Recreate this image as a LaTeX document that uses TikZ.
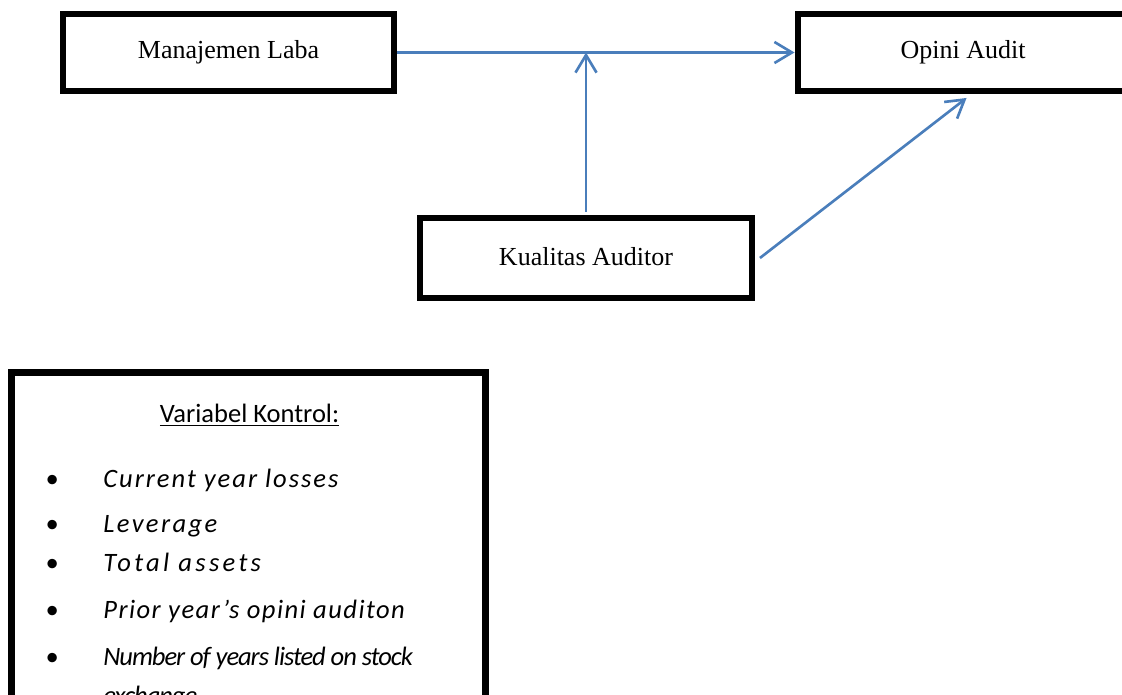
\documentclass[tikz,border=0pt]{standalone}
\usepackage{fontspec}
\setmainfont{Liberation Serif}
\newfontfamily\kontrolfont{Carlito}
\usepackage{tikz}
\usetikzlibrary{arrows.meta,positioning}
\definecolor{panahbiru}{HTML}{4A7EBB}

\begin{document}
\begin{tikzpicture}[x=0.02cm, y=-0.02cm,
  kotak/.style={draw, rectangle, line width=3.4pt, minimum width=6.62cm, minimum height=1.54cm, font=\fontsize{14.8}{17}\selectfont},
  panah/.style={draw=panahbiru, line width=1.5pt, -{Straight Barb[length=10pt,width=12pt]}},
  butir/.style={anchor=base west, inner sep=0pt, font=\kontrolfont\itshape\fontsize{15.1}{18}\selectfont},
  titik/.style={anchor=base, inner sep=0pt, font=\kontrolfont\itshape\fontsize{15.1}{18}\selectfont}]
  \useasboundingbox (0,0) rectangle (1122,695);
  \clip (0,0) rectangle (1122,695);

  % model boxes
  \node[kotak] (laba) at (228.5, 52.5) {Manajemen Laba};
  \node[kotak] (opini) at (963, 52.5) {Opini Audit};
  \node[kotak, minimum width=6.64cm, minimum height=1.6cm, text depth=0.2em] (kualitas) at (586, 258) {Kualitas Auditor};

  % arrows
  \coordinate (simpang) at (laba.east -| kualitas.north);
  \draw[panah] (laba.east) -- (opini.west);
  \draw[panah, shorten <=0.06cm] (kualitas.north) -- (simpang);
  \draw[panah] ([xshift=0.1cm]kualitas.east) -- ([shift={(172,4)}]opini.south west);

  % control variables
  \node[draw, rectangle, line width=4pt, minimum width=9.49cm, minimum height=6.96cm] (kontrol) at (248.75, 546) {};
  \node[anchor=base, inner sep=0pt, font=\kontrolfont\fontsize{15.1}{18}\selectfont] (judul) at (249.5, 423) {\underline{Variabel Kontrol:}};

  \node[titik] (t1) at (52, 487) {\textbullet};
  \node[titik] (t2) at (52, 532) {\textbullet};
  \node[titik] (t3) at (52, 571) {\textbullet};
  \node[titik] (t4) at (52, 618) {\textbullet};
  \node[titik] (t5) at (52, 665) {\textbullet};

  \node[butir] (b1) at (103, 487) {\addfontfeature{LetterSpace=7.5}Current year losses};
  \node[butir] (b2) at (103, 532) {\addfontfeature{LetterSpace=9}Leverage};
  \node[butir] (b3) at (103, 571) {\addfontfeature{LetterSpace=12.5}Total assets};
  \node[butir] (b4) at (103, 618) {\addfontfeature{LetterSpace=5.5}Prior year’s opini auditon};
  \node[butir] (b5) at (103, 665) {\addfontfeature{LetterSpace=-4}Number of years listed on stock};
  \node[butir] (b6) at (103, 704) {\addfontfeature{LetterSpace=-4}exchange};
\end{tikzpicture}
\end{document}
